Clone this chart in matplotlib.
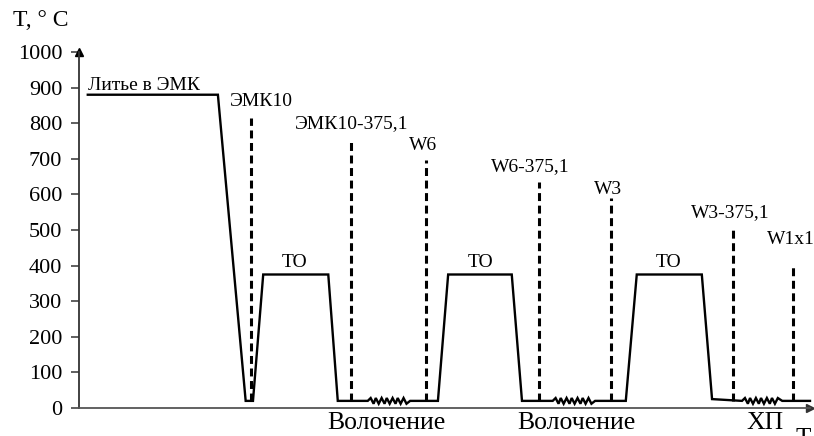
import matplotlib.pyplot as plt

plt.rcParams['font.family'] = ['Liberation Serif', 'DejaVu Serif']

# температурный профиль: время (усл. ед.) и температура, °C
profile_t = [1.2, 19.0, 22.8, 23.8, 25.2, 34.1, 35.4, 39.5]
profile_T = [880, 880, 20, 20, 375, 375, 20, 20]
# волочение 1
draw1_t = [39.9, 40.3, 40.6, 41.0, 41.4, 41.8, 42.1, 42.5, 42.9, 43.3, 43.6, 44.0, 44.4, 44.8, 45.3]
draw1_T = [28, 12, 28, 12, 28, 12, 28, 12, 28, 12, 28, 12, 28, 12, 20]
mid1_t = [49.1, 50.5, 59.2, 60.6, 64.8]
mid1_T = [20, 375, 375, 20, 20]
# волочение 2
draw2_t = [65.2, 65.6, 65.9, 66.3, 66.7, 67.1, 67.4, 67.8, 68.2, 68.6, 68.9, 69.3, 69.7, 70.1, 70.6]
draw2_T = [28, 12, 28, 12, 28, 12, 28, 12, 28, 12, 28, 12, 28, 12, 20]
mid2_t = [74.8, 76.3, 85.2, 86.6, 90.7]
mid2_T = [20, 375, 375, 25, 20]
# ХП
draw3_t = [91.1, 91.5, 91.8, 92.2, 92.6, 93.0, 93.3, 93.7, 94.1, 94.5, 94.8, 95.2, 95.6, 96.2, 100.0]
draw3_T = [28, 12, 28, 12, 28, 12, 28, 12, 28, 12, 28, 12, 28, 20, 20]

# состояния (пунктирные линии)
states = ['ЭМК10', 'ЭМК10-375,1', 'W6', 'W6-375,1', 'W3', 'W3-375,1', 'W1x1']
state_t = [23.5, 37.2, 47.5, 62.9, 72.8, 89.5, 97.7]
state_top = [815, 753, 697, 635, 590, 505, 402]
label_t = [24.9, 37.3, 47.1, 61.8, 72.4, 89.1, 97.4]
label_T = [860, 798, 736, 677, 615, 548, 472]

to_t = [29.5, 54.9, 80.6]
stages = ['Волочение', 'Волочение', 'ХП']
stage_t = [42.0, 68.0, 93.8]

all_t = profile_t + draw1_t + mid1_t + draw2_t + mid2_t + draw3_t
all_T = profile_T + draw1_T + mid1_T + draw2_T + mid2_T + draw3_T

fig = plt.figure(figsize=(8.14, 4.36), dpi=100)
ax = fig.add_axes([79 / 814, 28 / 436, 731 / 814, 356 / 436])

ax.plot(all_t, all_T, color='black', lw=1.7, solid_joinstyle='miter', clip_on=False)

for t, top in zip(state_t, state_top):
    ax.plot([t, t], [20, top], color='black', lw=2.2, linestyle=(0, (2.6, 1.5)))

for name, t, T in zip(states, label_t, label_T):
    ax.text(t, T, name, ha='center', va='center', fontsize=14)
ax.text(1.2, 907, 'Литье в ЭМК', ha='left', va='center', fontsize=14)
for t in to_t:
    ax.text(t, 410, 'ТО', ha='center', va='center', fontsize=14)
for name, t in zip(stages, stage_t):
    ax.text(t, -42, name, ha='center', va='center', fontsize=18.5, clip_on=False)
ax.text(99.0, -86, 'Т', ha='center', va='center', fontsize=18, clip_on=False)
fig.text(13 / 814, 1 - 20 / 436, 'T, ° C', ha='left', va='center', fontsize=17)

ax.set_xlim(0, 100)
ax.set_ylim(0, 1000)
ax.set_yticks(range(0, 1001, 100))
ax.set_xticks([])
ax.tick_params(axis='y', direction='out', length=6, width=1.2, labelsize=16, pad=6, color='#444444')
for side in ['top', 'right']:
    ax.spines[side].set_visible(False)
ax.spines['left'].set_linewidth(1.3)
ax.spines['left'].set_color('#333333')
ax.spines['bottom'].set_linewidth(1.3)
ax.spines['bottom'].set_color('#555555')
ax.plot(0, 1000, marker='^', color='black', markersize=6, clip_on=False, transform=ax.get_yaxis_transform())
ax.plot(1, 0, marker='>', color='#333333', markersize=6, clip_on=False, transform=ax.get_yaxis_transform())

fig.savefig('out.png', dpi=100)
